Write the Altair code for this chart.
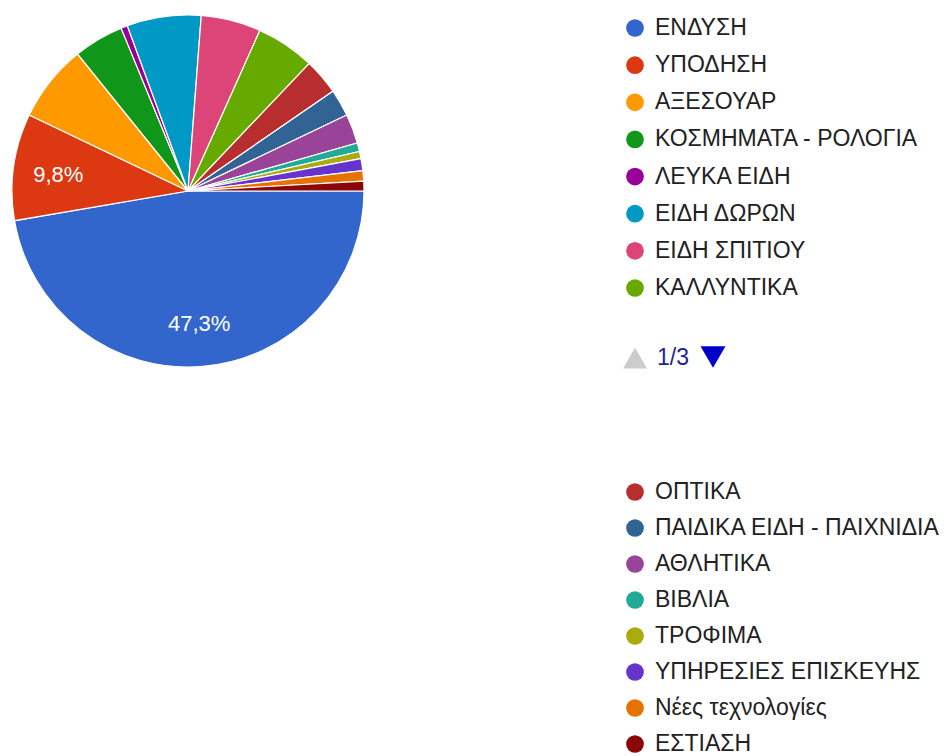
import math
import pandas as pd
import altair as alt

categories = [
    "ΕΝΔΥΣΗ", "ΥΠΟΔΗΣΗ", "ΑΞΕΣΟΥΑΡ", "ΚΟΣΜΗΜΑΤΑ - ΡΟΛΟΓΙΑ",
    "ΛΕΥΚΑ ΕΙΔΗ", "ΕΙΔΗ ΔΩΡΩΝ", "ΕΙΔΗ ΣΠΙΤΙΟΥ", "ΚΑΛΛΥΝΤΙΚΑ",
    "ΟΠΤΙΚΑ", "ΠΑΙΔΙΚΑ ΕΙΔΗ - ΠΑΙΧΝΙΔΙΑ", "ΑΘΛΗΤΙΚΑ", "ΒΙΒΛΙΑ",
    "ΤΡΟΦΙΜΑ", "ΥΠΗΡΕΣΙΕΣ ΕΠΙΣΚΕΥΗΣ", "Νέες τεχνολογίες", "ΕΣΤΙΑΣΗ",
]
shares = [47.3, 9.8, 7.1, 4.6, 0.6, 6.8, 5.5, 5.4,
          3.3, 2.5, 2.7, 0.8, 0.65, 1.1, 0.95, 0.9]
colors = [
    "#3366cc", "#dc3912", "#ff9900", "#109618", "#990099", "#0099c6",
    "#dd4477", "#66aa00", "#b82e2e", "#316395", "#994499", "#22aa99",
    "#aaaa11", "#6633cc", "#e67300", "#8b0707",
]
pager_text = ["1/3"]

df = pd.DataFrame({
    "category": categories,
    "share": shares,
    "order": list(range(len(categories))),
    "row": [i % 8 for i in range(len(categories))],
    "page": [i // 8 + 1 for i in range(len(categories))],
})
df["label"] = [(f"{v:.1f}".replace(".", ",") + "%") if v >= 9 else "" for v in shares]

FONT = "Liberation Sans"
color_scale = alt.Scale(domain=categories, range=colors)
theta_scale = alt.Scale(range=[math.pi / 2, math.pi / 2 + 2 * math.pi])
cx, cy = 180, 183

base = alt.Chart(df)
pie = base.mark_arc(radius=176, stroke="white", strokeWidth=1.2).encode(
    theta=alt.Theta("share:Q", stack=True, scale=theta_scale),
    color=alt.Color("category:N", scale=color_scale, legend=None),
    order=alt.Order("order:Q"),
    x=alt.value(cx), y=alt.value(cy),
)
labels = base.mark_text(radius=131, dy=2, fontSize=22, color="white", font=FONT).encode(
    theta=alt.Theta("share:Q", stack=True, scale=theta_scale),
    text="label:N",
    order=alt.Order("order:Q"),
    x=alt.value(cx), y=alt.value(cy),
)


def legend_page(page, y0, y1):
    src = alt.Chart(df[df["page"] == page])
    yenc = alt.Y("row:Q", scale=alt.Scale(domain=[0, 7], range=[y0, y1], nice=False, zero=False), axis=None)
    dots = src.mark_point(filled=True, shape="circle", size=314, opacity=1).encode(
        x=alt.value(627), y=yenc,
        color=alt.Color("category:N", scale=color_scale, legend=None),
    )
    txt = src.mark_text(align="left", baseline="middle", fontSize=23, font=FONT, color="#222222").encode(
        x=alt.value(647), y=yenc, text="category:N",
    )
    return [dots, txt]


pager_df = pd.DataFrame({"t": pager_text})
up = alt.Chart(pager_df).mark_point(shape="triangle-up", filled=True, size=576, color="#cccccc", opacity=1).encode(
    x=alt.value(627), y=alt.value(350))
pager = alt.Chart(pager_df).mark_text(align="left", baseline="middle", fontSize=23, font=FONT, color="#22229a").encode(
    x=alt.value(649), y=alt.value(350), text="t:N")
down = alt.Chart(pager_df).mark_point(shape="triangle-down", filled=True, size=625, color="#0000cc", opacity=1).encode(
    x=alt.value(705), y=alt.value(349))

layers = [pie, labels] + legend_page(1, 20, 280) + legend_page(2, 484, 736) + [up, pager, down]

chart = alt.layer(*layers).resolve_scale(y="independent").properties(
    width=936, height=748, padding=0, background="white",
    autosize=alt.AutoSizeParams(type="none"),
).configure_view(stroke=None)

chart.save("out.html", embed_options={"renderer": "svg", "actions": False})
